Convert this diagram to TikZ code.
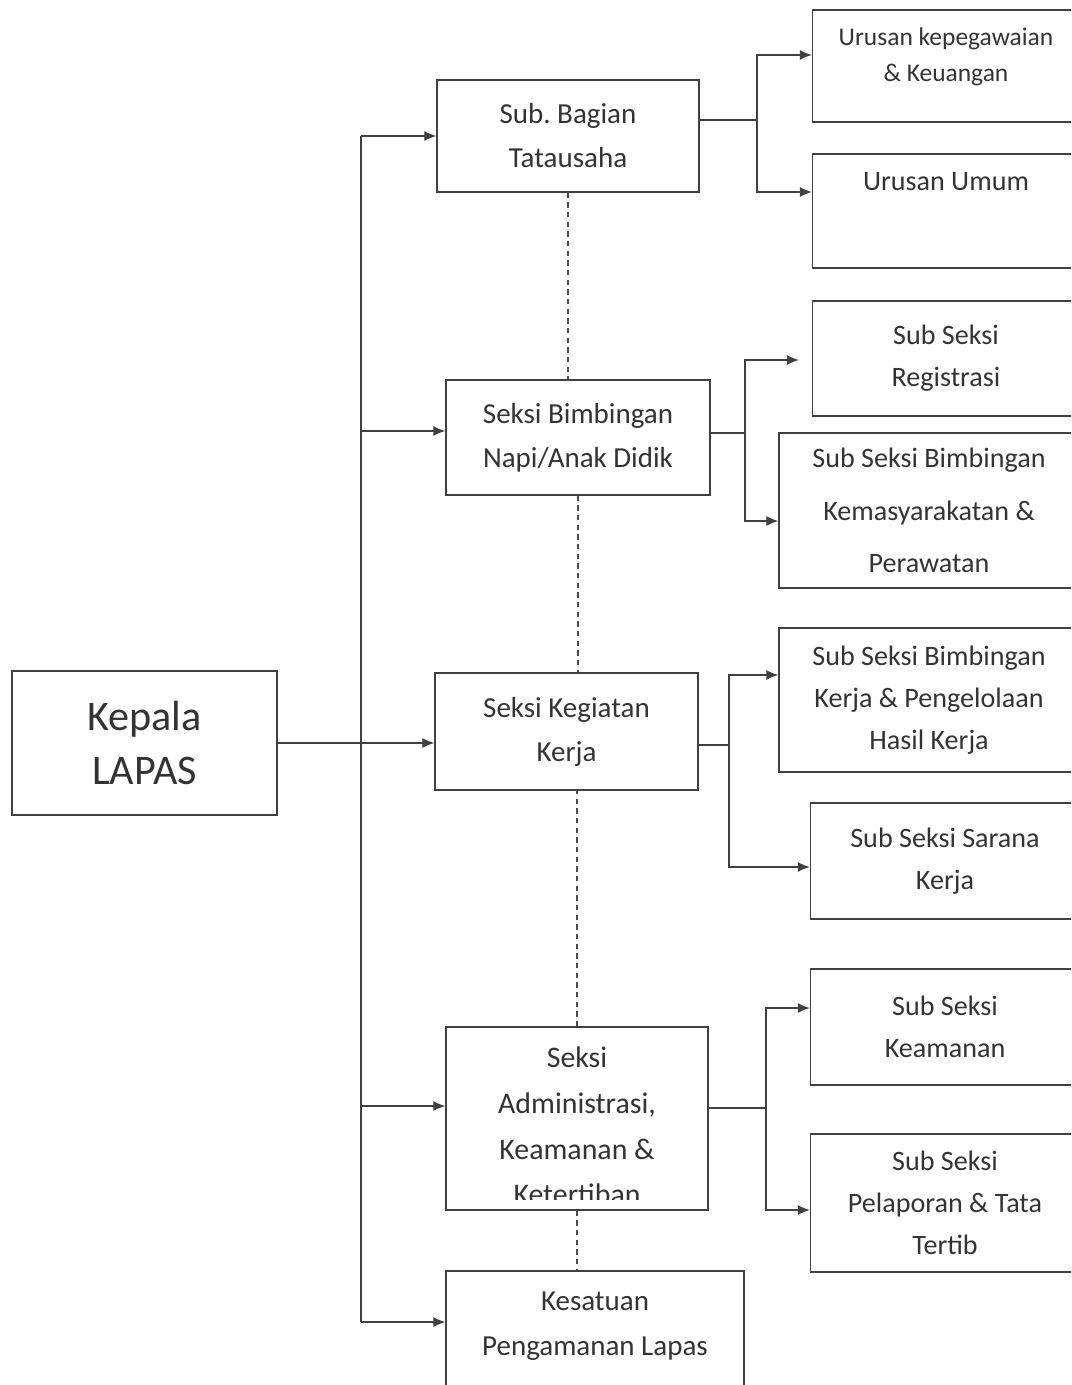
\documentclass[tikz,border=0pt]{standalone}
\usepackage{fontspec}
\setmainfont{Carlito}
\usetikzlibrary{positioning,arrows.meta}
\frenchspacing

\begin{document}
\begin{tikzpicture}[x=0.02cm,y=-0.02cm,
  box/.style={draw=black!75,line width=0.8pt,align=center,text=black!80,inner sep=2pt},
  sect/.style={box,font=\fontsize{16.5}{25}\selectfont},
  sub/.style={box,font=\fontsize{16}{24}\selectfont,minimum width=5.34cm},
  toptext/.style={text=black!80,align=center,inner sep=0pt,anchor=north},
  line/.style={draw=black!75,line width=0.7pt},
  arr/.style={line,-{Latex[length=2.4mm,width=2mm]}},
  dline/.style={draw=black!70,line width=0.6pt,dash pattern=on 3pt off 2.5pt}
]
\useasboundingbox (0,0) rectangle (1071,1385);
\clip (0,0) rectangle (1071,1385);

% kepala dan seksi
\node[box,minimum width=5.3cm,minimum height=2.88cm,font=\fontsize{24}{31}\selectfont] (kepala) at (144.5,743) {Kepala\\LAPAS};
\node[sect,minimum width=5.24cm,minimum height=2.24cm] (tu) at (568,136) {Sub. Bagian\\Tatausaha};
\node[sect,minimum width=5.28cm,minimum height=2.3cm] (bim) at (578,437.5) {Seksi Bimbingan\\Napi/Anak Didik};
\node[sect,minimum width=5.26cm,minimum height=2.34cm] (keg) at (566.5,731.5) {Seksi Kegiatan\\Kerja};
\node[box,minimum width=5.24cm,minimum height=3.66cm,
  path picture={\clip (path picture bounding box.north west) rectangle ([yshift=0.2cm]path picture bounding box.south east);
    \node[draw=none,text=black!80,align=center,font=\fontsize{17}{26}\selectfont]
    at ([yshift=-0.15cm]path picture bounding box.center) {Seksi\\Administrasi,\\Keamanan \&\\Ketertiban};}] (adm) at (577,1118.5) {};
\node[box,minimum width=5.96cm,minimum height=2.7cm] (ksp) at (595,1338.5) {};
\node[toptext,font=\fontsize{16.5}{25.5}\selectfont] (kspt) at ([yshift=-0.42cm]ksp.north) {Kesatuan\\Pengamanan Lapas};

% sub seksi / urusan
\node[box,minimum width=5.34cm,minimum height=2.24cm] (r1) at (946,66) {};
\node[toptext,font=\fontsize{14.5}{20.5}\selectfont] (r1t) at ([yshift=-0.36cm]r1.north) {Urusan kepegawaian\\\& Keuangan};
\node[box,minimum width=5.34cm,minimum height=2.28cm] (r2) at (946,211) {};
\node[toptext,font=\fontsize{16}{24}\selectfont] (r2t) at ([yshift=-0.38cm]r2.north) {Urusan Umum};
\node[sub,minimum height=2.3cm] (r3) at (946,358.5) {Sub Seksi\\Registrasi};
\node[sub,minimum width=6cm,minimum height=3.1cm,font=\fontsize{16}{30}\selectfont] (r4) at (929,510.5) {Sub Seksi Bimbingan\\Kemasyarakatan \&\\Perawatan};
\node[sub,minimum width=6cm,minimum height=2.88cm] (r5) at (929,700) {Sub Seksi Bimbingan\\Kerja \& Pengelolaan\\Hasil Kerja};
\node[sub,minimum width=5.38cm,minimum height=2.32cm] (r6) at (945,861) {Sub Seksi Sarana\\Kerja};
\node[sub,minimum width=5.38cm,minimum height=2.32cm] (r7) at (945,1027) {Sub Seksi\\Keamanan};
\node[sub,minimum width=5.38cm,minimum height=2.76cm] (r8) at (945,1203) {Sub Seksi\\Pelaporan \& Tata\\Tertib};

% garis komando
\coordinate (s1) at (361,136);
\coordinate (s2) at (361,431);
\coordinate (s3) at (361,1106);
\coordinate (s4) at (361,1322);
\draw[line] (s1) -- (s4);
\draw[arr] (s1) -- (s1 -| tu.west);
\draw[arr] (s2) -- (s2 -| bim.west);
\draw[arr] (s3) -- (s3 -| adm.west);
\draw[arr] (s4) -- (s4 -| ksp.west);
\draw[arr] (kepala.east) -- (kepala.east -| keg.west);

% garis koordinasi
\draw[dline] (tu.south) -- (tu.south |- bim.north);
\draw[dline] (bim.south) -- (bim.south |- keg.north);
\draw[dline] (adm.north) -- (adm.north |- keg.south);
\draw[dline] (adm.south) -- (adm.south |- ksp.north);

% cabang ke sub seksi
\coordinate (tj) at (757,120);
\draw[arr] (tj -| tu.east) -- (tj) |- (r1.west |- 0,55);
\draw[arr] (tj) |- (r2.west |- 0,192);
\coordinate (bj) at (745,433);
\draw[arr,shorten >=0.26cm] (bj -| bim.east) -- (bj) |- (r3.west |- 0,360);
\draw[arr] (bj) |- (r4.west |- 0,521);
\coordinate (kj) at (729,745);
\draw[arr] (kj -| keg.east) -- (kj) |- (r5.west |- 0,675);
\draw[arr] (kj) |- (r6.west |- 0,867);
\coordinate (aj) at (766,1108);
\draw[arr] (aj -| adm.east) -- (aj) |- (r7.west |- 0,1008);
\draw[arr] (aj) |- (r8.west |- 0,1210);
\end{tikzpicture}
\end{document}
